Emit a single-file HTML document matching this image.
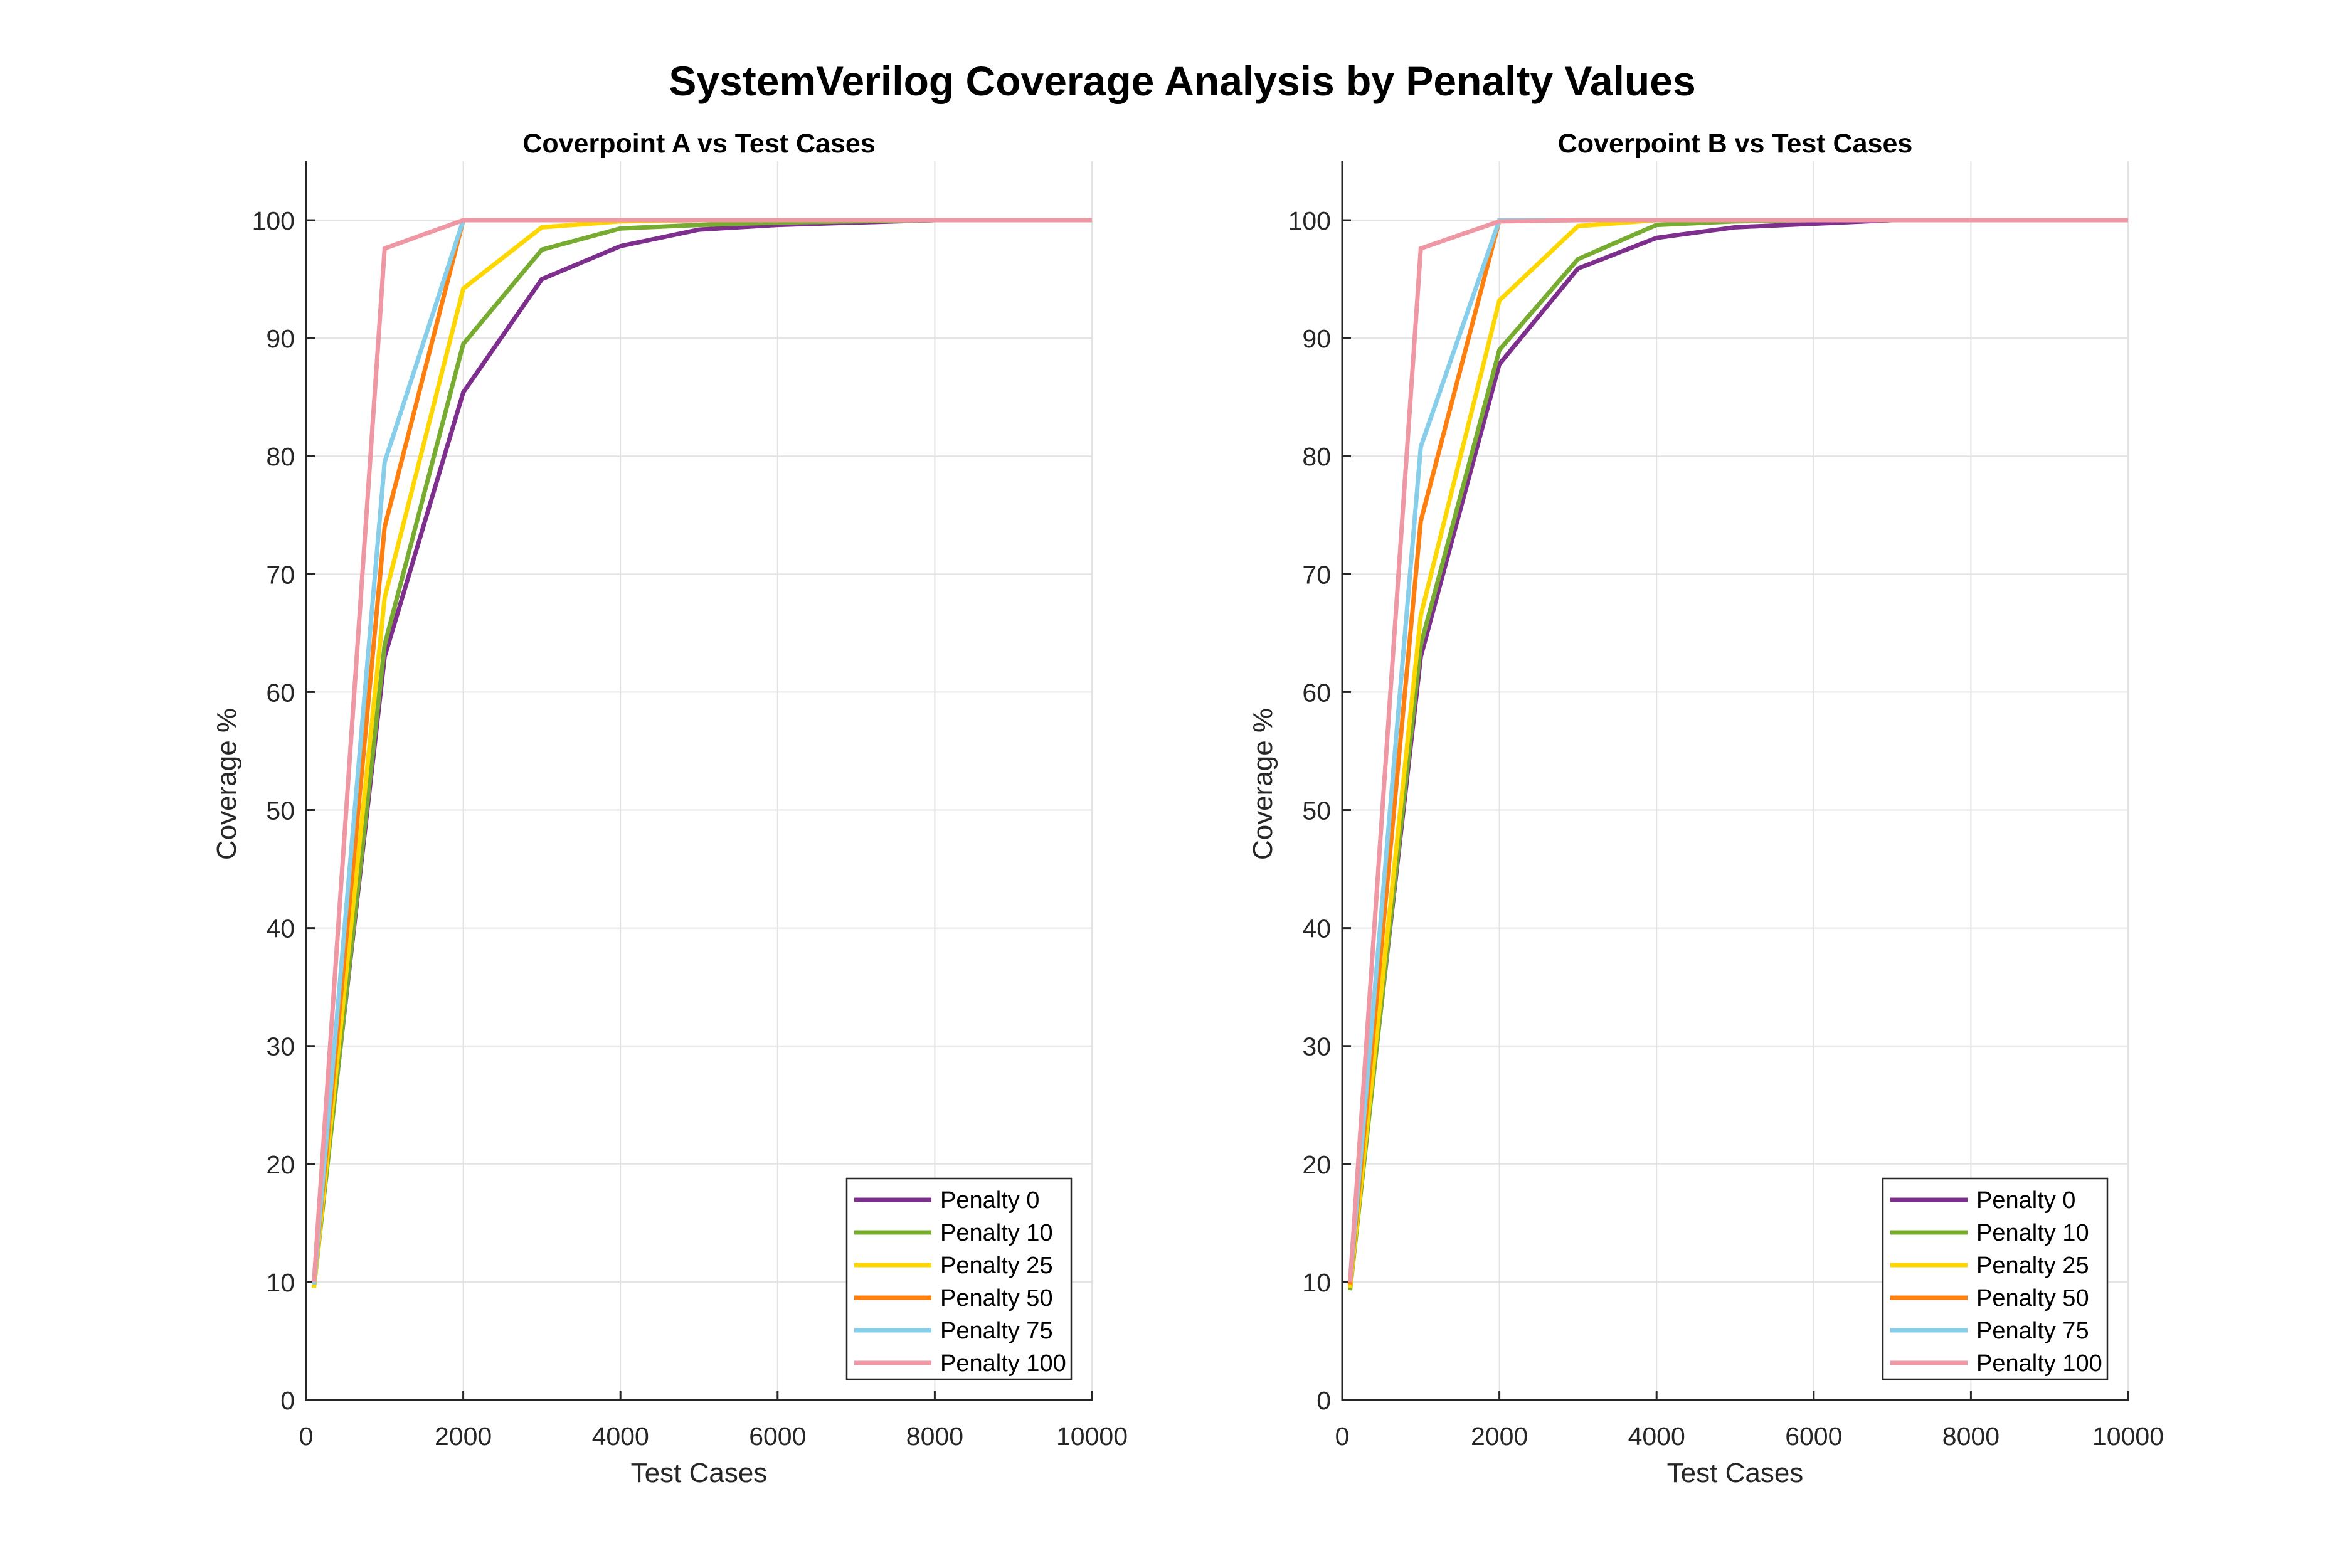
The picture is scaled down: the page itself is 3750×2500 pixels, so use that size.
<!DOCTYPE html>
<html><head><meta charset="utf-8"><style>
html,body{margin:0;padding:0;background:#fff;}
svg{display:block;font-family:"Liberation Sans",Arial,sans-serif;}
</style></head><body>
<svg id="fig" width="3750" height="2500" viewBox="0 0 3750 2500" xmlns="http://www.w3.org/2000/svg">
<rect width="3750" height="2500" fill="#fff"/>
<text x="1885" y="152" font-size="66" font-weight="bold" text-anchor="middle" fill="#000">SystemVerilog Coverage Analysis by Penalty Values</text>
</svg>
<script>
const xValues = [100, 1000, 2000, 3000, 4000, 5000, 6000, 7000, 8000, 9000, 10000];
const seriesNames = ["Penalty 0","Penalty 10","Penalty 25","Penalty 50","Penalty 75","Penalty 100"];
const seriesColors = ["#7E2F8E","#77AC30","#FFD700","#FF7F0E","#87CEEB","#F097A4"];
const coverageA_p0   = [10, 63, 85.4, 95, 97.8, 99.2, 99.6, 99.8, 100, 100, 100];
const coverageA_p10  = [9.5, 64, 89.5, 97.5, 99.3, 99.6, 99.8, 99.9, 100, 100, 100];
const coverageA_p25  = [9.5, 68, 94.2, 99.4, 99.9, 100, 100, 100, 100, 100, 100];
const coverageA_p50  = [9.8, 74, 100, 100, 100, 100, 100, 100, 100, 100, 100];
const coverageA_p75  = [9.8, 79.5, 100, 100, 100, 100, 100, 100, 100, 100, 100];
const coverageA_p100 = [10, 97.6, 100, 100, 100, 100, 100, 100, 100, 100, 100];
const coverageB_p0   = [10, 63, 87.8, 95.9, 98.5, 99.4, 99.7, 100, 100, 100, 100];
const coverageB_p10  = [9.3, 64, 89, 96.7, 99.6, 99.9, 100, 100, 100, 100, 100];
const coverageB_p25  = [9.5, 66.5, 93.2, 99.5, 100, 100, 100, 100, 100, 100, 100];
const coverageB_p50  = [9.8, 74.5, 100, 100, 100, 100, 100, 100, 100, 100, 100];
const coverageB_p75  = [10, 80.8, 100, 100, 100, 100, 100, 100, 100, 100, 100];
const coverageB_p100 = [10, 97.6, 99.9, 100, 100, 100, 100, 100, 100, 100, 100];
const xTicks = [0, 2000, 4000, 6000, 8000, 10000];
const yTicks = [0, 10, 20, 30, 40, 50, 60, 70, 80, 90, 100];

const NS = "http://www.w3.org/2000/svg";
const fig = document.getElementById('fig');
function mk(tag, attrs, parent) {
  const e = document.createElementNS(NS, tag);
  for (const k in attrs) e.setAttribute(k, attrs[k]);
  (parent || fig).appendChild(e);
  return e;
}
function drawPanel(left, title, data, key) {
  const right = left + 1253, top = 257, bottom = 2232;
  const sx = v => left + (v / 10000) * (right - left);
  const sy = v => bottom - (v / 105) * (bottom - top);
  const g = mk('g', {});
  
  
  xTicks.forEach(t => {
    const l = mk('line', {x1: sx(t), x2: sx(t), y1: top, y2: bottom, stroke: '#e3e3e3', 'stroke-width': 2}, g);
    
    
    const tk = mk('line', {x1: sx(t), x2: sx(t), y1: bottom, y2: bottom - 14, stroke: '#262626', 'stroke-width': 3}, g);
    
    
    const tx = mk('text', {x: sx(t), y: 2304, 'font-size': 41, 'text-anchor': 'middle', fill: '#262626'}, g);
    tx.textContent = t;
    
    
  });
  yTicks.forEach(t => {
    const l = mk('line', {x1: left, x2: right, y1: sy(t), y2: sy(t), stroke: '#e3e3e3', 'stroke-width': 2}, g);
    
    
    const tk = mk('line', {x1: left, x2: left + 14, y1: sy(t), y2: sy(t), stroke: '#262626', 'stroke-width': 3}, g);
    
    
    const tx = mk('text', {x: left - 18, y: sy(t) + 15, 'font-size': 41, 'text-anchor': 'end', fill: '#262626'}, g);
    tx.textContent = t;
    
    
  });
  data.forEach((arr, i) => {
    const pts = arr.map((v, j) => sx(xValues[j]) + ',' + sy(v)).join(' ');
    const pl = mk('polyline', {points: pts, fill: 'none', stroke: seriesColors[i], 'stroke-width': 7, 'stroke-linejoin': 'miter'}, g);
    
    
  });
  const ax = mk('path', {d: `M${left},${top} L${left},${bottom} L${right},${bottom} L${right},${bottom-14}`, fill: 'none', stroke: '#262626', 'stroke-width': 3}, g);
  
  
  const tt = mk('text', {x: (left + right) / 2, y: 243, 'font-size': 43, 'font-weight': 'bold', 'text-anchor': 'middle', fill: '#000'}, g);
  tt.textContent = title;
  
  
  const xl = mk('text', {x: (left + right) / 2, y: 2363, 'font-size': 44, 'text-anchor': 'middle', fill: '#262626'}, g);
  xl.textContent = 'Test Cases';
  
  
  const yl = mk('text', {x: left - 112, y: 1250, 'font-size': 44, 'text-anchor': 'middle', fill: '#262626', transform: `rotate(-90 ${left - 112} 1250)`}, g);
  yl.textContent = 'Coverage %';
  
  
  const lg = mk('g', {}, g);
  
  
  const lx = right - 391, ly = 1879;
  mk('rect', {x: lx, y: ly, width: 358, height: 320, fill: '#fff', stroke: '#262626', 'stroke-width': 2.5}, lg);
  seriesNames.forEach((n, i) => {
    const yy = ly + 34 + i * 52;
    const ll = mk('line', {x1: lx + 12, x2: lx + 135, y1: yy, y2: yy, stroke: seriesColors[i], 'stroke-width': 7}, lg);
    
    
    const tx = mk('text', {x: lx + 149, y: yy + 13, 'font-size': 38, fill: '#000'}, lg);
    tx.textContent = n;
    
    
  });
}
drawPanel(488, 'Coverpoint A vs Test Cases', [coverageA_p0, coverageA_p10, coverageA_p25, coverageA_p50, coverageA_p75, coverageA_p100], 'a');
drawPanel(2140, 'Coverpoint B vs Test Cases', [coverageB_p0, coverageB_p10, coverageB_p25, coverageB_p50, coverageB_p75, coverageB_p100], 'b');
</script>
</body></html>
